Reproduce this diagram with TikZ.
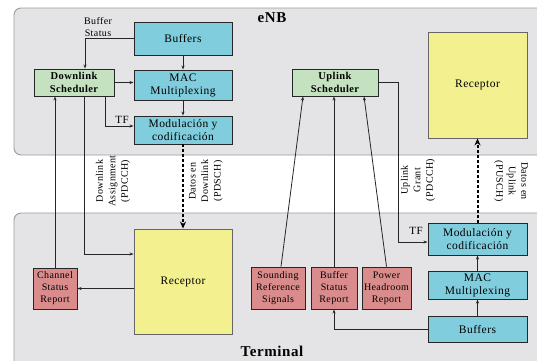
\documentclass[tikz,border=0pt]{standalone}
\usepackage{fontspec}
\setmainfont{Liberation Serif}
\newfontfamily\spacedserif{Liberation Serif}[LetterSpace=4]
\usetikzlibrary{arrows.meta}
\definecolor{panelfill}{HTML}{E4E4E6}
\definecolor{panelline}{HTML}{9C9C9C}
\definecolor{cyanbox}{HTML}{80CDDD}
\definecolor{greenbox}{HTML}{C4E2C0}
\definecolor{redbox}{HTML}{DA8C8C}
\definecolor{yellowbox}{HTML}{F3F08F}
\tikzset{
  panel/.style={fill=panelfill, draw=panelline, line width=0.9pt, rounded corners=7pt},
  basebox/.style={draw=black!85, line width=0.9pt, inner sep=1pt, align=center,
    font=\spacedserif\fontsize{11.5}{13}\selectfont},
  cbox/.style={basebox, fill=cyanbox},
  gbox/.style={basebox, fill=greenbox, font=\spacedserif\fontsize{10.5}{12.5}\selectfont\bfseries},
  rbox/.style={basebox, fill=redbox, font=\spacedserif\fontsize{10}{12}\selectfont},
  ybox/.style={basebox, fill=yellowbox, draw=black!60},
  arr/.style={draw=black!85, line width=0.8pt, -{Stealth[length=4pt,width=3pt]}},
  darr/.style={draw=black, line width=2pt, dash pattern=on 3pt off 2pt,
    -{Stealth[length=7pt,width=6pt]}},
  lbl/.style={align=center, font=\spacedserif\fontsize{10}{12.5}\selectfont, inner sep=0pt},
  ttl/.style={font=\spacedserif\fontsize{15}{17}\selectfont\bfseries, inner sep=0pt}
}
\begin{document}
\begin{tikzpicture}[x=1pt,y=-1pt]
\useasboundingbox (0,0) rectangle (537,360);
\clip (0,0) rectangle (537,360);
\fill[white] (0,0) rectangle (537,360);
% panels
\draw[panel] (14,8) rectangle (570,155);
\draw[panel] (14,213) rectangle (570,390);
\node[ttl] (enb) at (272,18) {eNB};
\node[ttl] (term) at (272,351) {Terminal};

% eNB left stack
\node[cbox, minimum width=98pt, minimum height=33pt] (bufA) at (183,38.5) {Buffers};
\node[cbox, minimum width=98pt, minimum height=30pt] (macA) at (183,85) {MAC\\Multiplexing};
\node[cbox, minimum width=98pt, minimum height=28pt] (modA) at (183,130) {Modulación y\\codificación};
\node[gbox, minimum width=80pt, minimum height=27pt] (dls) at (74,82.5) {Downlink\\Scheduler};
\node[gbox, minimum width=86pt, minimum height=27pt] (uls) at (335,82.5) {Uplink\\Scheduler};
\node[ybox, minimum width=99pt, minimum height=106pt] (recA) at (477.5,85) {Receptor};

% terminal
\node[ybox, minimum width=98pt, minimum height=105pt] (recB) at (183,281.5) {Receptor};
\node[rbox, minimum width=44pt, minimum height=41pt] (csr) at (55,288.5) {Channel\\Status\\Report};
\node[rbox, minimum width=54pt, minimum height=42pt] (srs) at (278,288) {Sounding\\Reference\\Signals};
\node[rbox, minimum width=46pt, minimum height=42pt] (bsr) at (334,288) {Buffer\\Status\\Report};
\node[rbox, minimum width=49pt, minimum height=42pt, inner sep=0pt] (phr) at (386.5,288) {Power\\Headroom\\Report};
\node[cbox, minimum width=99pt, minimum height=32pt] (modB) at (477.5,239) {Modulación y\\codificación};
\node[cbox, minimum width=99pt, minimum height=28pt] (macB) at (477.5,285) {MAC\\Multiplexing};
\node[cbox, minimum width=99pt, minimum height=26pt] (bufB) at (477.5,329) {Buffers};

% labels
\node[lbl] (bslbl) at (98,27) {Buffer\\Status};
\node[lbl, font=\spacedserif\fontsize{11}{12}\selectfont] (tfA) at (122,120) {TF};
\node[lbl, font=\spacedserif\fontsize{11}{12}\selectfont] (tfB) at (416,231) {TF};
\node[lbl, rotate=90] (dla) at (113,181) {Downlink\\Assignment\\(PDCCH)};
\node[lbl, rotate=90] (ddl) at (206,181) {Datos en\\Downlink\\(PDSCH)};
\node[lbl, rotate=90] (ulg) at (418,180) {Uplink\\Grant\\(PDCCH)};
\node[lbl, rotate=-90] (dul) at (511,181) {Datos en\\Uplink\\(PUSCH)};

% eNB connectors
\draw[arr] (bufA.west) -| ([xshift=11pt]dls.north);
\draw[arr] (dls.east) -- (dls.east -| macA.west);
\draw[arr] (bufA.south) -- (macA.north);
\draw[arr] (macA.south) -- (modA.north);
\draw[arr] ([xshift=31pt]dls.south) |- ([yshift=4pt]modA.west);
\draw[darr] (modA.south) -- (recB.north);
\draw[arr] ([xshift=10pt]dls.south) |- ([yshift=27.5pt]recB.west);
\draw[arr] (recB.west |- csr.east) -- (csr.east);
\draw[arr] (csr.north) -- (csr.north |- dls.south);

\coordinate (ulturn) at (398,82.5);
\draw[arr] (uls.east) -- (ulturn) |- ([yshift=-3pt]modB.west);
\draw[darr] (modB.north) -- (recA.south);
\draw[arr] ([xshift=3pt]srs.north) -- ([xshift=-32pt]uls.south);
\draw[arr] (bsr.north) -- (bsr.north |- uls.south);
\draw[arr] (phr.north) -- ([xshift=29pt]uls.south);
\draw[arr] (bufB.north) -- (macB.south);
\draw[arr] (macB.north) -- (modB.south);
\draw[arr] (bufB.west) -| (bsr.south);
\end{tikzpicture}
\end{document}
